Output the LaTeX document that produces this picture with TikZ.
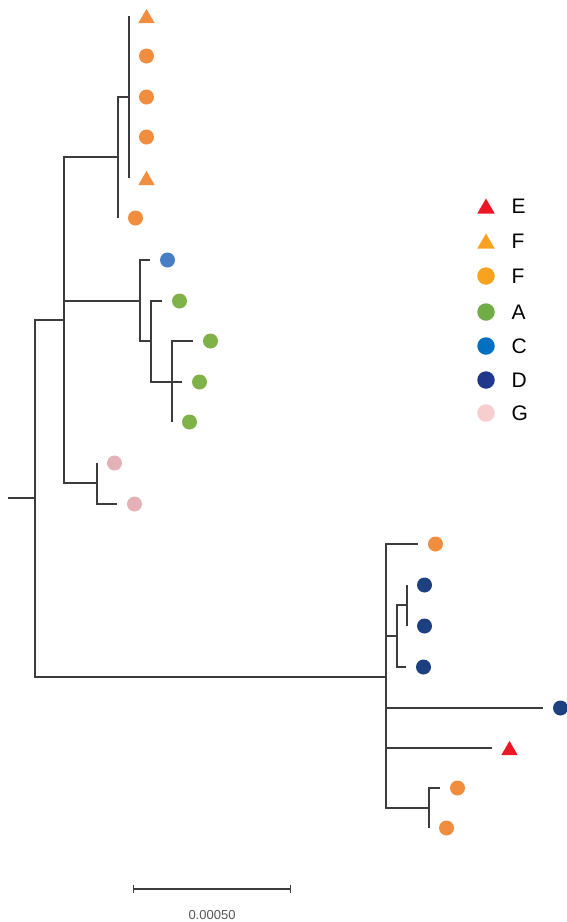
\documentclass[tikz,border=0pt]{standalone}
\usepackage{fontspec}
\setmainfont{Liberation Sans}
\usetikzlibrary{shapes.geometric,arrows.meta}
\definecolor{treeline}{RGB}{60,60,60}
\definecolor{orangeT}{RGB}{241,141,62}
\definecolor{orangeL}{RGB}{247,163,33}
\definecolor{redE}{RGB}{236,22,36}
\definecolor{greenT}{RGB}{128,178,74}
\definecolor{greenL}{RGB}{112,173,71}
\definecolor{blueT}{RGB}{72,124,196}
\definecolor{blueL}{RGB}{0,112,192}
\definecolor{navyT}{RGB}{28,64,128}
\definecolor{navyL}{RGB}{32,56,140}
\definecolor{pinkT}{RGB}{228,178,182}
\definecolor{pinkL}{RGB}{246,206,206}
\definecolor{scalegray}{RGB}{85,85,85}
\begin{document}
\begin{tikzpicture}[x=1pt, y=-1pt,
  branch/.style={draw=treeline, line width=1.1pt},
  dot/.style={circle, inner sep=0pt, minimum size=15pt},
  tri/.style={regular polygon, regular polygon sides=3, inner sep=0pt, minimum size=19pt, yshift=-2.4pt},
  fdot/.style={dot, fill=orangeT}, ftri/.style={tri, fill=orangeT},
  etri/.style={tri, fill=redE}, adot/.style={dot, fill=greenT},
  cdot/.style={dot, fill=blueT}, ddot/.style={dot, fill=navyT},
  gdot/.style={dot, fill=pinkT},
  legdot/.style={circle, inner sep=0pt, minimum size=17.5pt},
  legtri/.style={regular polygon, regular polygon sides=3, inner sep=0pt, minimum size=20pt, yshift=-2.5pt},
  legtext/.style={anchor=west, inner sep=0pt, font=\fontsize{21}{25}\selectfont},
  scalebar/.style={draw=treeline, line width=1.1pt, {Bar[width=8pt]}-{Bar[width=8pt]}},
  scaletext/.style={inner sep=0pt, text=scalegray, font=\fontsize{13}{15}\selectfont}]
\useasboundingbox (0,0) rectangle (566,922);
% internal nodes
\coordinate (root) at (8,498);
\coordinate (n0) at (35,498);
\coordinate (n1) at (64,320);
\coordinate (n2) at (118,157);
\coordinate (n3) at (129,97);
\coordinate (n4) at (140,301);
\coordinate (n5) at (151,341);
\coordinate (n6) at (172,382);
\coordinate (n7) at (97,483);
\coordinate (n8) at (386,677);
\coordinate (n9) at (397,636);
\coordinate (n10) at (407,605);
\coordinate (n11) at (429,808);
% branch tips
\coordinate (t1) at (129,16);
\coordinate (t2) at (129,56);
\coordinate (t3) at (129,97);
\coordinate (t4) at (129,137);
\coordinate (t5) at (129,178);
\coordinate (t6) at (118,218);
\coordinate (t7) at (150,260);
\coordinate (t8) at (162,301);
\coordinate (t9) at (193,341);
\coordinate (t10) at (182,382);
\coordinate (t11) at (172,422);
\coordinate (t12) at (97,463);
\coordinate (t13) at (117,504);
\coordinate (t14) at (418,544);
\coordinate (t15) at (407,585);
\coordinate (t16) at (407,626);
\coordinate (t17) at (406,667);
\coordinate (t18) at (543,708);
\coordinate (t19) at (492,748);
\coordinate (t20) at (440,788);
\coordinate (t21) at (429,828);
\draw[branch] (root) -- (n0);
\foreach \a/\b in {n0/n1, n0/n8, n1/n2, n1/n4, n1/n7, n2/n3, n2/t6, n3/t1, n3/t5,
  n4/t7, n4/n5, n5/t8, n5/n6, n6/t9, n6/t10, n6/t11, n7/t12, n7/t13,
  n8/t14, n8/n9, n8/t18, n8/t19, n8/n11, n9/n10, n9/t17, n10/t15, n10/t16,
  n11/t20, n11/t21}
  \draw[branch] (\a) |- (\b);
% leaf markers
\foreach \t/\s in {t1/ftri, t2/fdot, t3/fdot, t4/fdot, t5/ftri, t6/fdot, t7/cdot,
  t8/adot, t9/adot, t10/adot, t11/adot, t12/gdot, t13/gdot, t14/fdot, t15/ddot,
  t16/ddot, t17/ddot, t18/ddot, t19/etri, t20/fdot, t21/fdot}
  \node[\s] (m\t) at ([xshift=17.5pt]\t) {};
% legend
\foreach \y/\s/\c/\l [count=\i] in {206/legtri/redE/E, 241/legtri/orangeL/F,
  276/legdot/orangeL/F, 312/legdot/greenL/A, 346/legdot/blueL/C,
  380/legdot/navyL/D, 413/legdot/pinkL/G} {
  \node[\s, fill=\c] (key\i) at (486,\y) {};
  \node[legtext] (lab\i) at (511.5,\y) {\l};
}
% scale
\coordinate (s0) at (133,889);
\coordinate (s1) at (291,889);
\draw[scalebar] (s0) -- (s1);
\node[scaletext] (slab) at (212,915) {0.00050};
\end{tikzpicture}
\end{document}
